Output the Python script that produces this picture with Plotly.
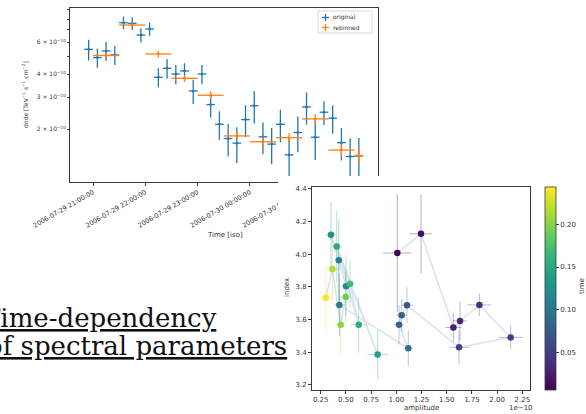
import plotly.graph_objects as go
import pandas as pd
from plotly.colors import sample_colorscale

W, H = 586, 414
BLUE = "#1f77b4"
ORANGE = "#ff7f0e"
AXC = "#3a3a3a"
FONT = "DejaVu Sans"


def px(x):
    return x / W


def py(y):
    return 1 - y / H


# ---------------- light curve (top chart) ----------------
orig_time = pd.date_range("2006-07-29 20:55:00", periods=32, freq="10min")
orig_dnde = [5.47e-10, 4.93e-10, 5.36e-10, 5.10e-10, 7.65e-10, 7.59e-10, 6.55e-10, 7.07e-10,
             3.85e-10, 4.31e-10, 4.01e-10, 4.17e-10, 3.24e-10, 4.01e-10, 2.73e-10, 2.13e-10,
             1.78e-10, 1.68e-10, 2.26e-10, 2.69e-10, 1.82e-10, 1.66e-10, 2.13e-10, 1.45e-10,
             1.92e-10, 2.65e-10, 1.81e-10, 2.48e-10, 2.30e-10, 1.69e-10, 1.42e-10, 1.43e-10]
orig_err = [0.71e-10, 0.59e-10, 0.64e-10, 0.61e-10, 0.61e-10, 0.61e-10, 0.59e-10, 0.57e-10,
            0.46e-10, 0.52e-10, 0.48e-10, 0.42e-10, 0.49e-10, 0.48e-10, 0.41e-10, 0.38e-10,
            0.36e-10, 0.37e-10, 0.45e-10, 0.54e-10, 0.36e-10, 0.37e-10, 0.43e-10, 0.36e-10,
            0.42e-10, 0.53e-10, 0.45e-10, 0.37e-10, 0.41e-10, 0.34e-10, 0.36e-10, 0.36e-10]
orig_bin_minutes = 10

rebin_start = ["2006-07-29 21:00", "2006-07-29 21:30", "2006-07-29 22:00", "2006-07-29 22:30",
               "2006-07-29 23:00", "2006-07-29 23:30", "2006-07-30 00:00", "2006-07-30 00:30",
               "2006-07-30 01:00", "2006-07-30 01:30", "2006-07-30 02:00"]
rebin_stop = ["2006-07-29 21:30", "2006-07-29 22:00", "2006-07-29 22:30", "2006-07-29 23:00",
              "2006-07-29 23:30", "2006-07-30 00:00", "2006-07-30 00:30", "2006-07-30 01:00",
              "2006-07-30 01:30", "2006-07-30 02:00", "2006-07-30 02:10"]
rebin_dnde = [5.06e-10, 7.43e-10, 5.16e-10, 3.80e-10, 3.07e-10, 1.84e-10, 1.71e-10, 1.80e-10,
              2.28e-10, 1.54e-10, 1.44e-10]
rebin_err = [0.22e-10, 0.30e-10, 0.22e-10, 0.17e-10, 0.15e-10, 0.11e-10, 0.11e-10, 0.11e-10,
             0.14e-10, 0.12e-10, 0.14e-10]

hour_ticks = ["2006-07-29 21:00:00", "2006-07-29 22:00:00", "2006-07-29 23:00:00",
              "2006-07-30 00:00:00", "2006-07-30 01:00:00", "2006-07-30 02:00:00"]
dnde_ticks = [2e-10, 3e-10, 4e-10, 6e-10]
dnde_ticktext = ["2 × 10<sup>−10</sup>", "3 × 10<sup>−10</sup>",
                 "4 × 10<sup>−10</sup>", "6 × 10<sup>−10</sup>"]
dnde_minor = [5e-10, 7e-10, 8e-10, 9e-10]

# ---------------- spectral parameters (bottom chart) ----------------
sp_time = [0.007, 0.017, 0.028, 0.035, 0.042, 0.049, 0.056, 0.070, 0.077, 0.084, 0.090,
           0.105, 0.112, 0.120, 0.125, 0.140, 0.150, 0.155, 0.170, 0.190, 0.200, 0.215, 0.244]
sp_amplitude = [1.010, 1.245, 1.566, 1.632, 1.824, 2.134, 1.622, 1.106, 1.053, 1.027, 1.119,
                0.435, 0.429, 0.501, 0.352, 0.815, 0.409, 0.627, 0.541, 0.498, 0.448, 0.366, 0.300]
sp_amplitude_err = [0.14, 0.11, 0.08, 0.07, 0.12, 0.12, 0.10, 0.06, 0.05, 0.05, 0.05,
                    0.05, 0.04, 0.05, 0.05, 0.10, 0.04, 0.08, 0.05, 0.05, 0.05, 0.06, 0.07]
sp_index = [4.008, 4.125, 3.552, 3.592, 3.690, 3.491, 3.430, 3.688, 3.627, 3.568, 3.424,
            3.690, 3.963, 3.805, 4.119, 3.386, 4.048, 3.568, 3.819, 3.738, 3.568, 3.910, 3.734]
sp_index_err = [0.36, 0.24, 0.09, 0.12, 0.07, 0.07, 0.10, 0.11, 0.10, 0.12, 0.11,
                0.19, 0.25, 0.18, 0.20, 0.15, 0.22, 0.17, 0.15, 0.16, 0.18, 0.20, 0.20]
amp_ticks = [0.25, 0.50, 0.75, 1.00, 1.25, 1.50, 1.75, 2.00, 2.25]
index_ticks = [3.2, 3.4, 3.6, 3.8, 4.0, 4.2, 4.4]
time_ticks = [0.05, 0.10, 0.15, 0.20]
TMIN, TMAX = 0.006, 0.244


def hbars(starts, stops, values):
    xs, ys = [], []
    for a, b, v in zip(starts, stops, values):
        xs += [a, b, None]
        ys += [v, v, None]
    return xs, ys


fig = go.Figure()

# ---- top chart traces ----
half = pd.Timedelta(minutes=orig_bin_minutes / 2)
ox, oy = hbars(list(orig_time - half), list(orig_time + half), orig_dnde)
fig.add_trace(go.Scatter(x=ox, y=oy, mode="lines", line=dict(color=BLUE, width=1.3),
                         showlegend=False, hoverinfo="skip", xaxis="x", yaxis="y"))
fig.add_trace(go.Scatter(
    x=orig_time, y=orig_dnde, mode="markers",
    marker=dict(color=BLUE, size=2.5),
    error_y=dict(type="data", array=orig_err, color=BLUE, thickness=1.3, width=0),
    showlegend=False, xaxis="x", yaxis="y"))

rs = pd.to_datetime(rebin_start)
re_ = pd.to_datetime(rebin_stop)
rebin_center = rs + (re_ - rs) / 2
rx, ry = hbars(list(rs), list(re_), rebin_dnde)
fig.add_trace(go.Scatter(x=rx, y=ry, mode="lines", line=dict(color=ORANGE, width=1.3),
                         showlegend=False, hoverinfo="skip", xaxis="x", yaxis="y"))
fig.add_trace(go.Scatter(
    x=rebin_center, y=rebin_dnde, mode="markers",
    marker=dict(color=ORANGE, size=2.5),
    error_y=dict(type="data", array=rebin_err, color=ORANGE, thickness=1.3, width=0),
    showlegend=False, xaxis="x", yaxis="y"))

# ---- white cover subplot (hides the part of the top chart under the second figure) ----
fig.add_trace(go.Scatter(x=[None], y=[None], xaxis="x2", yaxis="y2",
                         showlegend=False, hoverinfo="skip"))

# ---- bottom chart traces ----
fig.add_trace(go.Scatter(
    x=sp_amplitude, y=sp_index, mode="lines",
    line=dict(color="rgba(170,190,215,0.45)", width=1.5),
    showlegend=False, hoverinfo="skip", xaxis="x3", yaxis="y3"))

norm = [(t - TMIN) / (TMAX - TMIN) for t in sp_time]
cols = sample_colorscale("Viridis", norm)
for i in range(len(sp_time)):
    c = cols[i].replace("rgb(", "rgba(").replace(")", ",0.35)")
    fig.add_trace(go.Scatter(
        x=[sp_amplitude[i]], y=[sp_index[i]], mode="markers",
        marker=dict(size=1, color="rgba(0,0,0,0)"),
        error_x=dict(type="data", array=[sp_amplitude_err[i]], color=c, thickness=1, width=0),
        error_y=dict(type="data", array=[sp_index_err[i]], color=c, thickness=1, width=0),
        showlegend=False, hoverinfo="skip", xaxis="x3", yaxis="y3"))

fig.add_trace(go.Scatter(
    x=sp_amplitude, y=sp_index, mode="markers",
    marker=dict(size=6.5, color=sp_time, colorscale="Viridis", cmin=TMIN, cmax=TMAX,
                line=dict(width=0), showscale=True,
                colorbar=dict(x=px(545), xanchor="left", xpad=0, ypad=0,
                              y=py((186.7 + 390) / 2), yanchor="middle",
                              len=203, lenmode="pixels", thickness=11, thicknessmode="pixels",
                              outlinewidth=0.8, outlinecolor=AXC,
                              ticks="outside", ticklen=3, tickcolor=AXC,
                              tickvals=time_ticks, ticktext=["0.05", "0.10", "0.15", "0.20"],
                              tickfont=dict(size=7, family=FONT, color="#333"))),
    showlegend=False, xaxis="x3", yaxis="y3"))

axis_common = dict(showline=True, linecolor=AXC, linewidth=1, mirror=True, showgrid=False,
                   zeroline=False, ticks="outside", tickcolor=AXC, automargin=False)

fig.update_layout(
    width=W, height=H, margin=dict(l=0, r=0, t=0, b=0, pad=0, autoexpand=False),
    paper_bgcolor="white", plot_bgcolor="white",
    font=dict(family=FONT, color="#333"),
    showlegend=False,
    xaxis=dict(axis_common, domain=[px(70), px(378)], anchor="y", type="date",
               range=["2006-07-29 20:33:36", "2006-07-30 02:27:00"],
               tickmode="array", tickvals=hour_ticks, tickformat="%Y-%m-%d %H:%M:%S",
               tickangle=-30, ticklen=3, tickfont=dict(size=6.5)),
    yaxis=dict(axis_common, domain=[py(182), py(8)], anchor="x", type="log",
               range=[-9.987, -9.036], tickmode="array", tickvals=dnde_ticks,
               ticktext=dnde_ticktext, ticklen=2, tickfont=dict(size=6),
               minor=dict(tickmode="array", tickvals=dnde_minor, ticks="outside", ticklen=2,
                          tickcolor=AXC)),
    xaxis2=dict(domain=[px(278), 1], anchor="y2", visible=False, range=[0, 1]),
    yaxis2=dict(domain=[0, py(176)], anchor="x2", visible=False, range=[0, 1]),
    xaxis3=dict(axis_common, domain=[px(312), px(530)], anchor="y3", range=[0.1637, 2.326],
                tickmode="array", tickvals=amp_ticks,
                ticktext=[f"{v:.2f}" for v in amp_ticks], ticklen=3, tickfont=dict(size=7)),
    yaxis3=dict(axis_common, domain=[py(390), py(187)], anchor="x3", range=[3.169, 4.412],
                tickmode="array", tickvals=index_ticks,
                ticktext=[f"{v:.1f}" for v in index_ticks], ticklen=3, tickfont=dict(size=7)),
)

ann = []


def text(x, y, s, size, angle=0, xanchor="center", yanchor="middle", family=FONT, color="#333"):
    ann.append(dict(x=px(x), y=py(y), xref="paper", yref="paper", text=s, showarrow=False,
                    textangle=angle, xanchor=xanchor, yanchor=yanchor,
                    font=dict(size=size, family=family, color=color)))


# axis titles
text(225, 235, "Time [iso]", 7)
text(25, 95, "dnde [TeV<sup>−1</sup> s<sup>−1</sup> cm<sup>−2</sup>]", 6, angle=-90)
text(421, 408, "amplitude", 7)
text(521, 408, "1e−10", 7)
text(287, 288, "index", 7, angle=-90)
text(582, 286, "time", 7, angle=-90)

# custom legend of the top chart
text(331, 17.5, "original", 6, xanchor="left")
text(331, 27.5, "rebinned", 6, xanchor="left")

# slide text
text(-19, 318, "<u>Time-dependency</u>", 26, xanchor="left", family="DejaVu Serif", color="#111")
text(-15, 346, "<u>of spectral parameters</u>", 26, xanchor="left", family="DejaVu Serif", color="#111")

fig.update_layout(annotations=ann)

shapes = [
    dict(type="rect", xref="paper", yref="paper", x0=px(318), x1=px(372), y0=py(33), y1=py(11),
         line=dict(color="#d0d0d0", width=0.8), fillcolor="rgba(255,255,255,0.8)", layer="above"),
]
for yy, col in [(17.5, BLUE), (27.5, ORANGE)]:
    shapes.append(dict(type="line", xref="paper", yref="paper", x0=px(322), x1=px(329),
                       y0=py(yy), y1=py(yy), line=dict(color=col, width=1.3)))
    shapes.append(dict(type="line", xref="paper", yref="paper", x0=px(325.5), x1=px(325.5),
                       y0=py(yy - 3.5), y1=py(yy + 3.5), line=dict(color=col, width=1.3)))
fig.update_layout(shapes=shapes)

fig.write_html("out.html", config={"displayModeBar": False},
               post_script="document.body.style.margin='0';document.body.style.overflow='hidden';")
